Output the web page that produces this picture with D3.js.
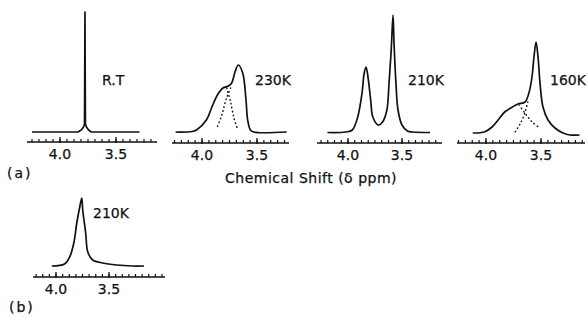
<!DOCTYPE html>
<html>
<head>
<meta charset="utf-8">
<script src="https://cdn.jsdelivr.net/npm/d3@7"></script>
<style>
  body { margin: 0; background: #fff; }
  text { font-family: "DejaVu Sans", sans-serif; fill: #111; stroke: #111; stroke-width: 0.25px; }
</style>
</head>
<body>
<div id="chart"></div>
<script>
//size of the whole figure
var width = 588,
  height = 318;

//labels of each spectrum
var panelNames = ["R.T", "230K", "210K", "160K", "210K"];
//labelled ticks on every ppm ruler
var majorTicks = [4.0, 3.5];
var tickLabels = ["4.0", "3.5"];

//spectra: [chemical shift (ppm), height above baseline]
var spectrumRT = [
  [4.25, 0], [3.84, 0], [3.81, 2], [3.79, 5], [3.781, 8], [3.779, 60],
  [3.777, 120], [3.775, 60], [3.773, 8], [3.764, 5], [3.745, 2], [3.72, 0], [3.29, 0]
];
var spectrum230 = [
  [4.24, 0], [4.09, 0.5], [4.05, 2], [3.96, 12], [3.91, 25], [3.86, 37],
  [3.81, 44], [3.76, 46], [3.73, 49], [3.70, 60], [3.67, 67], [3.63, 59],
  [3.60, 32], [3.585, 12], [3.56, 2], [3.53, 0], [3.23, 0]
];
var dots230a = [[3.775, 44], [3.74, 30], [3.71, 14], [3.68, 4]];
var dots230b = [[3.74, 44], [3.78, 33], [3.82, 17], [3.865, 4]];
var spectrum210 = [
  [4.19, 0], [4.02, 0.5], [3.96, 2.5], [3.91, 15.5], [3.87, 39.5], [3.85, 59.5],
  [3.833, 65.5], [3.815, 55.5], [3.79, 32.5], [3.77, 15.5], [3.72, 7.5],
  [3.68, 10.5], [3.64, 22.5], [3.62, 49.5], [3.60, 82.5], [3.583, 117.5],
  [3.574, 89.5], [3.556, 49.5], [3.537, 22.5], [3.50, 7.5], [3.45, 1.5],
  [3.40, 0.5], [3.24, 0]
];
var spectrum160 = [
  [4.12, 0], [4.01, 1.3], [3.945, 6], [3.89, 13], [3.83, 21], [3.76, 26],
  [3.71, 29], [3.645, 31], [3.61, 40], [3.582, 56], [3.564, 76], [3.545, 91],
  [3.527, 76], [3.509, 50], [3.482, 26], [3.436, 13], [3.373, 5], [3.30, 0],
  [3.236, -2], [3.15, -2]
];
var dots160a = [[3.70, 28], [3.64, 19], [3.58, 11], [3.51, 5]];
var dots160b = [[3.62, 31], [3.65, 19], [3.69, 9], [3.735, 1]];
var spectrum210b = [
  [4.04, 0], [3.92, 2], [3.87, 9.3], [3.832, 23], [3.804, 43], [3.776, 59],
  [3.757, 68], [3.748, 56], [3.72, 33], [3.70, 14], [3.654, 6], [3.56, 3],
  [3.43, 1], [3.28, 0], [3.17, 0]
];

//where each small spectrum sits in the figure
var panels = [
  { line: spectrumRT, dots: [], p40: 60, p35: 116, left: 27, right: 157, axisY: 142, base: 132, lx: 102, ly: 85, curve: d3.curveLinear },
  { line: spectrum230, dots: [dots230a, dots230b], p40: 202, p35: 257, left: 172, right: 289, axisY: 143, base: 132, lx: 255, ly: 85 },
  { line: spectrum210, dots: [], p40: 348, p35: 402, left: 317, right: 442, axisY: 143, base: 132.5, lx: 408, ly: 85 },
  { line: spectrum160, dots: [dots160a, dots160b], p40: 486, p35: 541, left: 457, right: 585, axisY: 143, base: 133, lx: 550, ly: 85 },
  { line: spectrum210b, dots: [], p40: 56, p35: 109, left: 33, right: 165, axisY: 277, base: 266, lx: 93, ly: 218 }
];

var svg = d3
  .select("#chart")
  .append("svg")
  .attr("width", width)
  .attr("height", height);

svg.append("rect").attr("width", width).attr("height", height).attr("fill", "#fff");

panels.forEach(function(p, i) {
  var x = d3.scaleLinear().domain([4.0, 3.5]).range([p.p40, p.p35]);
  var y = d3.scaleLinear().domain([0, 100]).range([p.base, p.base - 100]);
  var g = svg.append("g");

  //ruler
  g.append("line")
    .attr("x1", p.left).attr("x2", p.right)
    .attr("y1", p.axisY).attr("y2", p.axisY)
    .attr("stroke", "#111").attr("stroke-width", 1.6);

  var hi = x.invert(p.left), lo = x.invert(p.right);
  var minor = d3.range(4.0, lo, -0.0625).concat(d3.range(4.0 + 0.0625, hi, 0.0625));
  g.selectAll(".minor")
    .data(minor)
    .enter()
    .append("line")
    .attr("x1", function(d) { return x(d); })
    .attr("x2", function(d) { return x(d); })
    .attr("y1", p.axisY).attr("y2", p.axisY - 3)
    .attr("stroke", "#111").attr("stroke-width", 1.2);

  g.selectAll(".major")
    .data(majorTicks)
    .enter()
    .append("line")
    .attr("x1", function(d) { return x(d); })
    .attr("x2", function(d) { return x(d); })
    .attr("y1", p.axisY + 1).attr("y2", p.axisY - 5)
    .attr("stroke", "#111").attr("stroke-width", 1.3);

  g.selectAll(".tl")
    .data(majorTicks)
    .enter()
    .append("text")
    .attr("x", function(d) { return x(d); })
    .attr("y", p.axisY + 17)
    .attr("text-anchor", "middle")
    .style("font-size", "14px")
    .text(function(d, j) { return tickLabels[j]; });

  //spectrum
  var line = d3.line()
    .x(function(d) { return x(d[0]); })
    .y(function(d) { return y(d[1]); })
    .curve(p.curve || d3.curveCatmullRom.alpha(0.5));

  g.append("path")
    .attr("d", line(p.line))
    .attr("fill", "none")
    .attr("stroke", "#111")
    .attr("stroke-width", 1.7)
    .attr("stroke-linejoin", "round");

  p.dots.forEach(function(d) {
    g.append("path")
      .attr("d", line(d))
      .attr("fill", "none")
      .attr("stroke", "#111")
      .attr("stroke-width", 1.5)
      .attr("stroke-linecap", "round")
      .attr("stroke-dasharray", "0.5,3.5");
  });

  g.append("text")
    .attr("x", p.lx).attr("y", p.ly)
    .style("font-size", "14px")
    .text(panelNames[i]);
});

svg.append("text")
  .attr("x", 311).attr("y", 183)
  .attr("text-anchor", "middle")
  .style("font-size", "14px")
  .style("letter-spacing", "0.5px")
  .text("Chemical Shift (\u03b4 ppm)");

svg.append("text")
  .attr("x", 7).attr("y", 178)
  .style("font-size", "14px")
  .style("letter-spacing", "2px")
  .text("(a)");

svg.append("text")
  .attr("x", 9).attr("y", 312)
  .style("font-size", "14px")
  .style("letter-spacing", "2px")
  .text("(b)");
</script>
</body>
</html>
